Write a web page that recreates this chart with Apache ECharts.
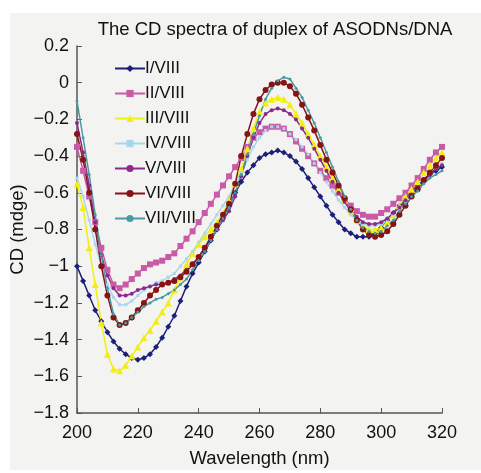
<!DOCTYPE html>
<html><head><meta charset="utf-8">
<script src="https://cdn.jsdelivr.net/npm/echarts@6/dist/echarts.min.js"></script>
<style>html,body{margin:0;padding:0;background:#fff}#c{width:481px;height:473px}</style>
</head><body><div id="c"></div>
<script>
const wavelengths = [];
for (let w = 200; w <= 320; w += 2) wavelengths.push(w);
const xTicks = [200, 220, 240, 260, 280, 300, 320];
const yTicks = [0.2, 0, -0.2, -0.4, -0.6, -0.8, -1, -1.2, -1.4, -1.6, -1.8];
const seriesNames = ['I/VIII','II/VIII','III/VIII','IV/VIII','V/VIII','VI/VIII','VII/VIII'];

const s1 = [-1.00,-1.08,-1.16,-1.24,-1.30,-1.36,-1.41,-1.45,-1.48,-1.50,-1.51,-1.50,-1.48,-1.44,-1.39,-1.33,-1.27,-1.19,-1.11,-1.04,-0.98,-0.92,-0.86,-0.80,-0.74,-0.67,-0.60,-0.54,-0.49,-0.45,-0.41,-0.39,-0.38,-0.37,-0.38,-0.40,-0.43,-0.47,-0.52,-0.57,-0.62,-0.67,-0.72,-0.76,-0.80,-0.82,-0.84,-0.84,-0.84,-0.82,-0.79,-0.75,-0.71,-0.67,-0.63,-0.59,-0.56,-0.53,-0.50,-0.48,-0.46];
const s2 = [-0.35,-0.48,-0.62,-0.76,-0.90,-1.02,-1.10,-1.12,-1.10,-1.07,-1.04,-1.01,-0.99,-0.98,-0.97,-0.95,-0.93,-0.89,-0.85,-0.81,-0.76,-0.71,-0.66,-0.61,-0.56,-0.51,-0.46,-0.41,-0.35,-0.30,-0.27,-0.25,-0.24,-0.24,-0.25,-0.28,-0.32,-0.36,-0.40,-0.44,-0.48,-0.52,-0.56,-0.60,-0.64,-0.67,-0.70,-0.72,-0.73,-0.73,-0.71,-0.69,-0.66,-0.63,-0.60,-0.56,-0.52,-0.47,-0.42,-0.38,-0.35];
const s3 = [-0.55,-0.68,-0.90,-1.10,-1.31,-1.48,-1.56,-1.57,-1.54,-1.49,-1.44,-1.39,-1.35,-1.30,-1.25,-1.20,-1.13,-1.06,-0.99,-0.93,-0.88,-0.84,-0.80,-0.76,-0.71,-0.64,-0.55,-0.47,-0.36,-0.25,-0.16,-0.11,-0.09,-0.08,-0.09,-0.12,-0.17,-0.22,-0.28,-0.34,-0.40,-0.46,-0.52,-0.58,-0.64,-0.70,-0.75,-0.78,-0.80,-0.80,-0.79,-0.76,-0.72,-0.67,-0.62,-0.58,-0.54,-0.49,-0.45,-0.41,-0.38];
const s4 = [-0.52,-0.62,-0.75,-0.88,-1.00,-1.10,-1.17,-1.21,-1.21,-1.19,-1.16,-1.13,-1.11,-1.09,-1.08,-1.06,-1.04,-1.00,-0.96,-0.92,-0.87,-0.82,-0.77,-0.72,-0.67,-0.62,-0.55,-0.49,-0.42,-0.35,-0.30,-0.26,-0.24,-0.24,-0.25,-0.28,-0.31,-0.35,-0.39,-0.44,-0.49,-0.54,-0.59,-0.64,-0.68,-0.72,-0.75,-0.77,-0.78,-0.78,-0.77,-0.75,-0.72,-0.68,-0.65,-0.61,-0.58,-0.54,-0.50,-0.47,-0.44];
const s5 = [-0.22,-0.38,-0.56,-0.76,-0.94,-1.05,-1.12,-1.16,-1.16,-1.15,-1.13,-1.12,-1.11,-1.10,-1.10,-1.09,-1.07,-1.05,-1.02,-0.99,-0.95,-0.90,-0.85,-0.80,-0.75,-0.70,-0.62,-0.51,-0.40,-0.30,-0.22,-0.17,-0.15,-0.14,-0.15,-0.17,-0.20,-0.25,-0.30,-0.36,-0.42,-0.48,-0.54,-0.60,-0.65,-0.70,-0.73,-0.76,-0.77,-0.77,-0.76,-0.74,-0.71,-0.68,-0.64,-0.61,-0.57,-0.54,-0.50,-0.47,-0.45];
const s6 = [-0.28,-0.42,-0.60,-0.80,-1.00,-1.16,-1.28,-1.32,-1.31,-1.28,-1.24,-1.20,-1.16,-1.13,-1.10,-1.09,-1.08,-1.06,-1.03,-0.99,-0.95,-0.90,-0.84,-0.78,-0.72,-0.66,-0.55,-0.40,-0.28,-0.17,-0.09,-0.04,-0.01,0.00,0.00,-0.02,-0.06,-0.12,-0.19,-0.26,-0.34,-0.42,-0.49,-0.56,-0.63,-0.69,-0.75,-0.80,-0.83,-0.84,-0.83,-0.81,-0.77,-0.72,-0.67,-0.62,-0.58,-0.53,-0.49,-0.45,-0.41];
const s7 = [-0.10,-0.30,-0.50,-0.72,-0.94,-1.12,-1.26,-1.32,-1.31,-1.28,-1.25,-1.22,-1.20,-1.18,-1.17,-1.15,-1.13,-1.10,-1.07,-1.02,-0.97,-0.92,-0.86,-0.80,-0.74,-0.68,-0.60,-0.50,-0.39,-0.28,-0.18,-0.09,-0.03,0.01,0.03,0.02,-0.03,-0.08,-0.15,-0.22,-0.30,-0.38,-0.46,-0.54,-0.62,-0.69,-0.75,-0.79,-0.81,-0.82,-0.81,-0.78,-0.75,-0.70,-0.66,-0.62,-0.59,-0.55,-0.52,-0.50,-0.48];

const allValues = [s1, s2, s3, s4, s5, s6, s7];
const colors = ['#1c1f78', '#c95aa6', '#f2ee10', '#a9d6ee', '#8a2a8c', '#861414', '#4a9aa2'];
const symbols = ['diamond', 'rect', 'triangle', 'rect', 'circle', 'circle', 'circle'];
const symbolSizes = [6, 6, 7, 3, 4, 6, 3];

const font = 'Liberation Sans, Arial, sans-serif';
const chart = echarts.init(document.getElementById('c'));
const fmt = v => {
  const r = Math.round(v * 10) / 10;
  if (r === 0) return '0';
  return (r < 0 ? '\u2212' : '') + String(Math.abs(r));
};
chart.setOption({
  animation: false,
  backgroundColor: '#ffffff',
  graphic: [{ type: 'rect', z: -10, shape: { x: 10, y: 13, width: 471, height: 457 }, style: { fill: '#f3f3f1' } }],
  title: {
    text: 'The CD spectra of duplex of ASODNs/DNA',
    left: 270, top: 15, textAlign: 'center',
    textStyle: { fontFamily: font, fontSize: 18.5, fontWeight: 'normal', color: '#111' }
  },
  legend: {
    orient: 'vertical', left: 109, top: 55, itemGap: 8, itemWidth: 30, itemHeight: 9,
    data: seriesNames,
    textStyle: { fontFamily: font, fontSize: 17, color: '#111', padding: [0, 0, 0, -5] }
  },
  grid: { left: 77, right: 39, top: 46, bottom: 60, containLabel: false, outerBoundsMode: 'none' },
  xAxis: {
    type: 'value', min: 200, max: 320, interval: 20,
    name: 'Wavelength (nm)', nameLocation: 'middle', nameGap: 36, nameMoveOverlap: false,
    nameTextStyle: { fontFamily: font, fontSize: 18.5, color: '#111' },
    axisLine: { onZero: false, lineStyle: { color: '#555', width: 1.5 } },
    axisTick: { inside: true, length: 5, lineStyle: { color: '#555' } },
    axisLabel: { fontFamily: font, fontSize: 18, color: '#111', margin: 11 },
    splitLine: { show: false }
  },
  yAxis: {
    type: 'value', min: -1.8, max: 0.2, interval: 0.2,
    name: 'CD (mdge)', nameLocation: 'middle', nameGap: 50, nameRotate: 90, nameMoveOverlap: false,
    nameTextStyle: { fontFamily: font, fontSize: 18.5, color: '#111' },
    axisLine: { onZero: false, lineStyle: { color: '#555', width: 1.5 } },
    axisTick: { inside: true, length: 5, lineStyle: { color: '#555' } },
    axisLabel: { fontFamily: font, fontSize: 18, color: '#111', margin: 8, formatter: fmt },
    splitLine: { show: false }
  },
  series: seriesNames.map((name, i) => ({
    name, type: 'line',
    data: wavelengths.map((w, j) => [w, allValues[i][j]]),
    symbol: symbols[i], symbolSize: symbolSizes[i],
    lineStyle: { color: colors[i], width: 1.5 },
    itemStyle: { color: colors[i] },
    smooth: false
  }))
});
</script></body></html>
